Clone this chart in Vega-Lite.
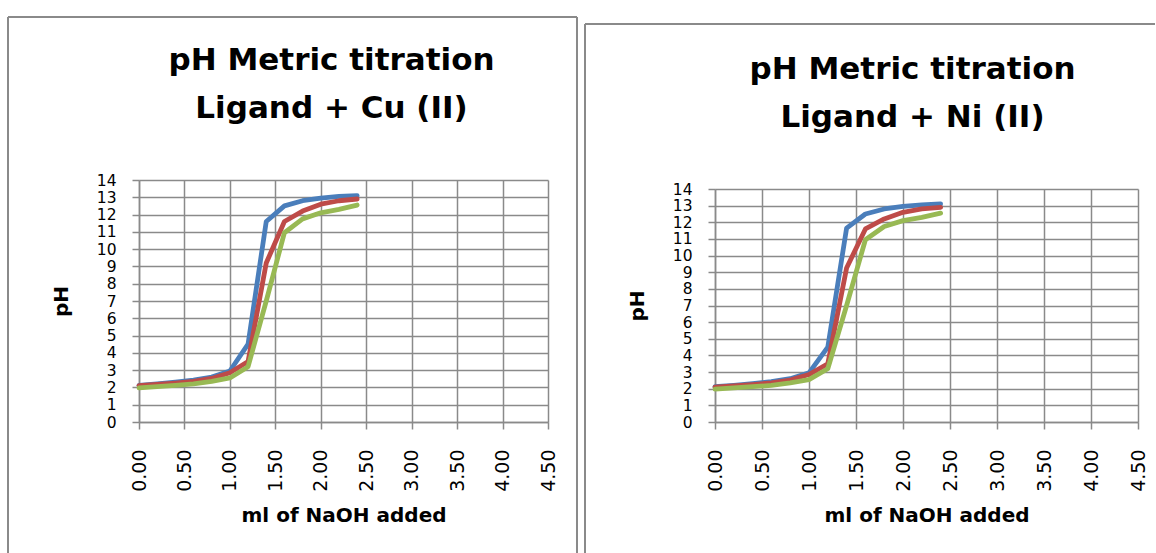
{
  "$schema": "https://vega.github.io/schema/vega-lite/v6.json",
  "autosize": {"type": "pad"},
  "padding": {"left": 7, "top": 15, "right": 0, "bottom": 0},
  "background": "white",
  "datasets": {
    "cu": [
      {"ml": 0, "pH": 2.12, "series": "Series1"}, {"ml": 0.2, "pH": 2.2, "series": "Series1"}, {"ml": 0.4, "pH": 2.3, "series": "Series1"}, {"ml": 0.6, "pH": 2.42, "series": "Series1"}, {"ml": 0.8, "pH": 2.6, "series": "Series1"}, {"ml": 1.0, "pH": 2.95, "series": "Series1"}, {"ml": 1.2, "pH": 4.5, "series": "Series1"}, {"ml": 1.4, "pH": 11.6, "series": "Series1"}, {"ml": 1.6, "pH": 12.5, "series": "Series1"}, {"ml": 1.8, "pH": 12.8, "series": "Series1"}, {"ml": 2.0, "pH": 12.95, "series": "Series1"}, {"ml": 2.2, "pH": 13.05, "series": "Series1"}, {"ml": 2.4, "pH": 13.1, "series": "Series1"},
      {"ml": 0, "pH": 2.1, "series": "Series2"}, {"ml": 0.2, "pH": 2.17, "series": "Series2"}, {"ml": 0.4, "pH": 2.25, "series": "Series2"}, {"ml": 0.6, "pH": 2.35, "series": "Series2"}, {"ml": 0.8, "pH": 2.52, "series": "Series2"}, {"ml": 1.0, "pH": 2.85, "series": "Series2"}, {"ml": 1.2, "pH": 3.5, "series": "Series2"}, {"ml": 1.4, "pH": 9.2, "series": "Series2"}, {"ml": 1.6, "pH": 11.6, "series": "Series2"}, {"ml": 1.8, "pH": 12.2, "series": "Series2"}, {"ml": 2.0, "pH": 12.6, "series": "Series2"}, {"ml": 2.2, "pH": 12.8, "series": "Series2"}, {"ml": 2.4, "pH": 12.9, "series": "Series2"},
      {"ml": 0, "pH": 1.98, "series": "Series3"}, {"ml": 0.2, "pH": 2.05, "series": "Series3"}, {"ml": 0.4, "pH": 2.12, "series": "Series3"}, {"ml": 0.6, "pH": 2.2, "series": "Series3"}, {"ml": 0.8, "pH": 2.35, "series": "Series3"}, {"ml": 1.0, "pH": 2.55, "series": "Series3"}, {"ml": 1.2, "pH": 3.2, "series": "Series3"}, {"ml": 1.4, "pH": 7.0, "series": "Series3"}, {"ml": 1.6, "pH": 10.95, "series": "Series3"}, {"ml": 1.8, "pH": 11.75, "series": "Series3"}, {"ml": 2.0, "pH": 12.1, "series": "Series3"}, {"ml": 2.2, "pH": 12.3, "series": "Series3"}, {"ml": 2.4, "pH": 12.55, "series": "Series3"}
    ],
    "ni": [
      {"ml": 0, "pH": 2.12, "series": "Series1"}, {"ml": 0.2, "pH": 2.2, "series": "Series1"}, {"ml": 0.4, "pH": 2.3, "series": "Series1"}, {"ml": 0.6, "pH": 2.42, "series": "Series1"}, {"ml": 0.8, "pH": 2.6, "series": "Series1"}, {"ml": 1.0, "pH": 2.95, "series": "Series1"}, {"ml": 1.2, "pH": 4.5, "series": "Series1"}, {"ml": 1.4, "pH": 11.65, "series": "Series1"}, {"ml": 1.6, "pH": 12.5, "series": "Series1"}, {"ml": 1.8, "pH": 12.8, "series": "Series1"}, {"ml": 2.0, "pH": 12.95, "series": "Series1"}, {"ml": 2.2, "pH": 13.05, "series": "Series1"}, {"ml": 2.4, "pH": 13.1, "series": "Series1"},
      {"ml": 0, "pH": 2.1, "series": "Series2"}, {"ml": 0.2, "pH": 2.17, "series": "Series2"}, {"ml": 0.4, "pH": 2.25, "series": "Series2"}, {"ml": 0.6, "pH": 2.35, "series": "Series2"}, {"ml": 0.8, "pH": 2.52, "series": "Series2"}, {"ml": 1.0, "pH": 2.85, "series": "Series2"}, {"ml": 1.2, "pH": 3.5, "series": "Series2"}, {"ml": 1.4, "pH": 9.25, "series": "Series2"}, {"ml": 1.6, "pH": 11.6, "series": "Series2"}, {"ml": 1.8, "pH": 12.2, "series": "Series2"}, {"ml": 2.0, "pH": 12.6, "series": "Series2"}, {"ml": 2.2, "pH": 12.8, "series": "Series2"}, {"ml": 2.4, "pH": 12.9, "series": "Series2"},
      {"ml": 0, "pH": 1.98, "series": "Series3"}, {"ml": 0.2, "pH": 2.05, "series": "Series3"}, {"ml": 0.4, "pH": 2.12, "series": "Series3"}, {"ml": 0.6, "pH": 2.2, "series": "Series3"}, {"ml": 0.8, "pH": 2.35, "series": "Series3"}, {"ml": 1.0, "pH": 2.55, "series": "Series3"}, {"ml": 1.2, "pH": 3.2, "series": "Series3"}, {"ml": 1.4, "pH": 7.0, "series": "Series3"}, {"ml": 1.6, "pH": 10.95, "series": "Series3"}, {"ml": 1.8, "pH": 11.75, "series": "Series3"}, {"ml": 2.0, "pH": 12.1, "series": "Series3"}, {"ml": 2.2, "pH": 12.3, "series": "Series3"}, {"ml": 2.4, "pH": 12.55, "series": "Series3"}
    ]
  },
  "bounds": "flush",
  "spacing": 167,
  "hconcat": [
    {
      "width": 409,
      "height": 242,
      "title": {"text": ["pH Metric titration", "Ligand + Cu (II)"], "offset": -109, "dx": -12},
      "layer": [
        {
          "data": {"name": "cu"},
          "mark": {"type": "line", "strokeWidth": 4.8, "strokeCap": "round", "strokeJoin": "round"},
          "encoding": {
            "x": {"field": "ml", "type": "quantitative", "title": "ml of NaOH added",
                  "scale": {"domain": [0, 4.5], "nice": false, "zero": false},
                  "axis": {"values": [0, 0.5, 1, 1.5, 2, 2.5, 3, 3.5, 4, 4.5], "format": ".2f"}},
            "y": {"field": "pH", "type": "quantitative", "title": "pH",
                  "scale": {"domain": [0, 14], "nice": false},
                  "axis": {"values": [0, 1, 2, 3, 4, 5, 6, 7, 8, 9, 10, 11, 12, 13, 14]}},
            "color": {"field": "series", "type": "nominal", "legend": null,
                      "scale": {"domain": ["Series1", "Series2", "Series3"], "range": ["#4a7ebb", "#be4b48", "#98b954"]}}
          }
        },
        {
          "data": {"values": [{}]},
          "mark": {"type": "rule", "color": "#8a8a8a", "strokeWidth": 2},
          "encoding": {
            "x": {"datum": -1.4413, "type": "quantitative", "title": "ml of NaOH added",
                  "axis": {"values": [0, 0.5, 1, 1.5, 2, 2.5, 3, 3.5, 4, 4.5], "format": ".2f"}},
            "y": {"datum": 23.43, "type": "quantitative", "title": "pH",
                  "axis": {"values": [0, 1, 2, 3, 4, 5, 6, 7, 8, 9, 10, 11, 12, 13, 14]}},
            "y2": {"datum": -7.578}
          }
        },
        {
          "data": {"values": [{}]},
          "mark": {"type": "rule", "color": "#8a8a8a", "strokeWidth": 2},
          "encoding": {
            "x": {"datum": -1.4413, "type": "quantitative", "title": "ml of NaOH added",
                  "axis": {"values": [0, 0.5, 1, 1.5, 2, 2.5, 3, 3.5, 4, 4.5], "format": ".2f"}},
            "x2": {"datum": 4.819},
            "y": {"datum": 23.43, "type": "quantitative", "title": "pH",
                  "axis": {"values": [0, 1, 2, 3, 4, 5, 6, 7, 8, 9, 10, 11, 12, 13, 14]}}
          }
        },
        {
          "data": {"values": [{}]},
          "mark": {"type": "rule", "color": "#8a8a8a", "strokeWidth": 2},
          "encoding": {
            "x": {"datum": 4.819, "type": "quantitative", "title": "ml of NaOH added",
                  "axis": {"values": [0, 0.5, 1, 1.5, 2, 2.5, 3, 3.5, 4, 4.5], "format": ".2f"}},
            "y": {"datum": 23.43, "type": "quantitative", "title": "pH",
                  "axis": {"values": [0, 1, 2, 3, 4, 5, 6, 7, 8, 9, 10, 11, 12, 13, 14]}},
            "y2": {"datum": -7.578}
          }
        }
      ]
    },
    {
      "bounds": "flush",
      "spacing": 8,
      "vconcat": [
        {"width": 423, "height": 1, "data": {"values": []}, "mark": "point"},
        {
          "width": 423,
          "height": 233,
          "title": {"text": ["pH Metric titration", "Ligand + Ni (II)"], "offset": -111, "dx": -14},
          "layer": [
            {
              "data": {"name": "ni"},
              "mark": {"type": "line", "strokeWidth": 4.8, "strokeCap": "round", "strokeJoin": "round"},
              "encoding": {
                "x": {"field": "ml", "type": "quantitative", "title": "ml of NaOH added",
                      "scale": {"domain": [0, 4.5], "nice": false, "zero": false},
                      "axis": {"values": [0, 0.5, 1, 1.5, 2, 2.5, 3, 3.5, 4, 4.5], "format": ".2f"}},
                "y": {"field": "pH", "type": "quantitative", "title": "pH",
                      "scale": {"domain": [0, 14], "nice": false},
                      "axis": {"values": [0, 1, 2, 3, 4, 5, 6, 7, 8, 9, 10, 11, 12, 13, 14]}},
                "color": {"field": "series", "type": "nominal", "legend": null,
                          "scale": {"domain": ["Series1", "Series2", "Series3"], "range": ["#4a7ebb", "#be4b48", "#98b954"]}}
              }
            },
            {
              "data": {"values": [{}]},
              "mark": {"type": "rule", "color": "#8a8a8a", "strokeWidth": 2},
              "encoding": {
                "x": {"datum": -1.383, "type": "quantitative", "title": "ml of NaOH added",
                      "axis": {"values": [0, 0.5, 1, 1.5, 2, 2.5, 3, 3.5, 4, 4.5], "format": ".2f"}},
                "y": {"datum": 23.914, "type": "quantitative", "title": "pH",
                      "axis": {"values": [0, 1, 2, 3, 4, 5, 6, 7, 8, 9, 10, 11, 12, 13, 14]}},
                "y2": {"datum": -7.871}
              }
            },
            {
              "data": {"values": [{}]},
              "mark": {"type": "rule", "color": "#8a8a8a", "strokeWidth": 2},
              "encoding": {
                "x": {"datum": -1.383, "type": "quantitative", "title": "ml of NaOH added",
                      "axis": {"values": [0, 0.5, 1, 1.5, 2, 2.5, 3, 3.5, 4, 4.5], "format": ".2f"}},
                "x2": {"datum": 4.681},
                "y": {"datum": 23.914, "type": "quantitative", "title": "pH",
                      "axis": {"values": [0, 1, 2, 3, 4, 5, 6, 7, 8, 9, 10, 11, 12, 13, 14]}}
              }
            }
          ]
        }
      ]
    }
  ],
  "config": {
    "view": {"stroke": null},
    "axis": {
      "grid": true, "gridColor": "#8a8a8a", "gridWidth": 1.5, "gridOpacity": 1,
      "domainColor": "#8a8a8a", "domainWidth": 1.5,
      "tickColor": "#8a8a8a", "tickWidth": 1.5, "tickSize": 7,
      "labelFont": "DejaVu Sans", "labelColor": "#000000", "labelOverlap": false, "labelFlush": false,
      "titleFont": "DejaVu Sans", "titleFontWeight": "bold", "titleColor": "#000000", "titleFontSize": 20
    },
    "axisX": {"labelAngle": -90, "labelFontSize": 19, "labelPadding": 20, "titlePadding": 14},
    "axisY": {"labelFontSize": 15.5, "labelPadding": 16, "titlePadding": 25},
    "title": {"font": "DejaVu Sans", "fontWeight": "bold", "fontSize": 31, "lineHeight": 48, "color": "#000000", "frame": "group", "anchor": "middle"}
  }
}
